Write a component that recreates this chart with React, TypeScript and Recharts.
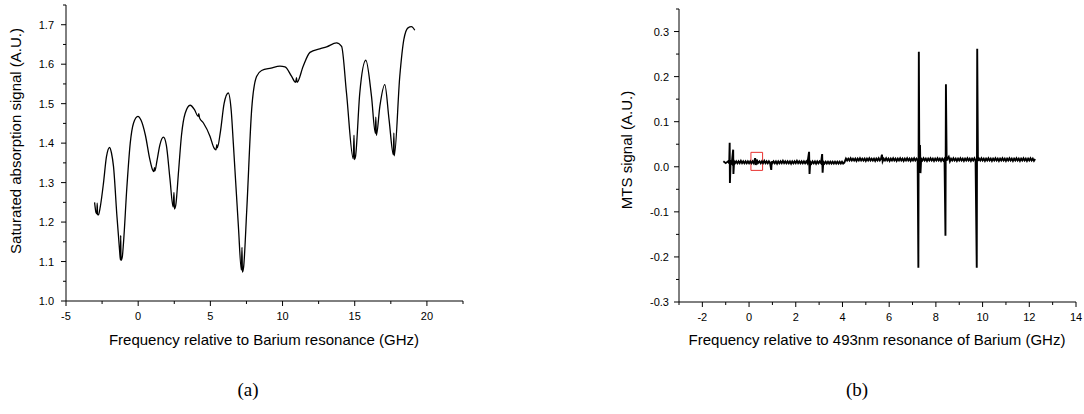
import React from 'react';
import { LineChart, Line, XAxis, YAxis, ReferenceArea } from 'recharts';

// (a) saturated absorption spectrum: [GHz, A.U.]
const absorption: [number, number][] = [
  [-3.02, 1.25], [-2.92, 1.224], [-2.86, 1.221], [-2.84, 1.248], [-2.81, 1.219], [-2.75, 1.218],
  [-2.62, 1.24], [-2.4, 1.3], [-2.2, 1.365], [-1.98, 1.389], [-1.85, 1.375], [-1.71, 1.341],
  [-1.47, 1.214], [-1.29, 1.129], [-1.23, 1.104], [-1.21, 1.166], [-1.19, 1.103], [-1.1, 1.112],
  [-1.02, 1.146], [-0.78, 1.29], [-0.55, 1.4], [-0.32, 1.451], [-0.02, 1.468], [0.2, 1.458],
  [0.5, 1.42], [0.8, 1.36], [1.0, 1.332], [1.08, 1.328], [1.13, 1.338], [1.16, 1.33], [1.3, 1.355],
  [1.5, 1.395], [1.75, 1.415], [1.95, 1.395], [2.2, 1.31], [2.42, 1.238], [2.48, 1.275],
  [2.51, 1.233], [2.6, 1.242], [2.8, 1.33], [3.0, 1.42], [3.25, 1.475], [3.6, 1.496],
  [3.9, 1.485], [4.15, 1.468], [4.2, 1.475], [4.25, 1.464], [4.52, 1.451], [4.98, 1.417],
  [5.25, 1.388], [5.39, 1.383], [5.45, 1.396], [5.48, 1.388], [5.7, 1.43], [5.95, 1.5],
  [6.24, 1.527], [6.45, 1.48], [6.59, 1.4], [6.94, 1.19], [7.15, 1.078], [7.19, 1.136],
  [7.22, 1.073], [7.3, 1.085], [7.52, 1.23], [7.86, 1.485], [8.2, 1.569], [8.55, 1.584],
  [9.2, 1.59], [9.82, 1.595], [10.17, 1.593], [10.63, 1.569], [10.9, 1.554], [10.97, 1.566],
  [11.0, 1.554], [11.43, 1.595], [11.9, 1.63], [12.58, 1.639], [13.05, 1.644], [13.74, 1.654],
  [14.09, 1.645], [14.43, 1.527], [14.9, 1.36], [14.95, 1.42], [14.98, 1.358], [15.05, 1.365],
  [15.35, 1.527], [15.77, 1.61], [16.16, 1.519], [16.43, 1.425], [16.46, 1.466], [16.5, 1.42],
  [16.74, 1.493], [17.08, 1.548], [17.38, 1.459], [17.68, 1.37], [17.71, 1.426], [17.74, 1.368],
  [18.12, 1.569], [18.4, 1.662], [18.69, 1.692], [18.93, 1.695], [19.16, 1.686],
];

// (b) modulation transfer spectroscopy signal: [GHz, A.U.]
const mts: [number, number][] = [
  [-1.1, 0.012], [-1.0, 0.008], [-0.9, 0.012], [-0.85, 0.008], [-0.83, 0.053], [-0.82, -0.036],
  [-0.79, 0.012], [-0.74, 0.008], [-0.68, 0.038], [-0.67, -0.016], [-0.64, 0.012], [-0.6, 0.008],
  [-0.55, 0.012], [-0.5, 0.008], [-0.45, 0.012], [-0.4, 0.008], [-0.35, 0.013], [-0.3, 0.008],
  [-0.25, 0.012], [-0.2, 0.008], [-0.15, 0.012], [-0.1, 0.008], [-0.05, 0.012], [0.0, 0.008],
  [0.05, 0.012], [0.1, 0.008], [0.15, 0.012], [0.2, 0.008], [0.26, 0.019], [0.29, 0.004],
  [0.33, 0.016], [0.38, 0.008], [0.45, 0.012], [0.5, 0.008], [0.55, 0.012], [0.6, 0.008],
  [0.65, 0.013], [0.7, 0.008], [0.75, 0.012], [0.8, 0.008], [0.85, 0.012], [0.9, 0.008],
  [0.95, -0.007], [0.97, 0.012], [1.0, 0.008], [1.05, 0.012], [1.1, 0.008], [1.15, 0.012],
  [1.2, 0.007], [1.25, 0.012], [1.3, 0.008], [1.35, 0.012], [1.4, 0.008], [1.45, 0.013],
  [1.5, 0.008], [1.55, 0.012], [1.6, 0.008], [1.65, 0.012], [1.7, 0.008], [1.75, 0.012],
  [1.8, 0.007], [1.85, 0.012], [1.9, 0.008], [1.95, 0.012], [2.0, 0.008], [2.05, 0.013],
  [2.1, 0.008], [2.15, 0.012], [2.2, 0.008], [2.25, 0.012], [2.3, 0.008], [2.35, 0.012],
  [2.4, 0.008], [2.45, 0.012], [2.5, 0.008], [2.57, 0.033], [2.59, -0.016], [2.62, 0.011],
  [2.67, 0.007], [2.72, 0.012], [2.77, 0.008], [2.82, 0.012], [2.87, 0.007], [2.92, 0.012],
  [2.97, 0.008], [3.02, 0.012], [3.08, 0.008], [3.13, 0.028], [3.15, -0.013], [3.18, 0.011],
  [3.23, 0.007], [3.28, 0.011], [3.33, 0.007], [3.38, 0.011], [3.43, 0.007], [3.48, 0.011],
  [3.53, 0.007], [3.58, 0.011], [3.63, 0.007], [3.68, 0.011], [3.73, 0.007], [3.78, 0.011],
  [3.83, 0.007], [3.88, 0.011], [3.93, 0.007], [3.98, 0.011], [4.03, 0.007], [4.08, 0.009],
  [4.15, 0.018], [4.2, 0.014], [4.25, 0.018], [4.3, 0.014], [4.35, 0.019], [4.4, 0.014],
  [4.45, 0.018], [4.5, 0.014], [4.55, 0.018], [4.6, 0.013], [4.65, 0.018], [4.7, 0.014],
  [4.75, 0.019], [4.8, 0.014], [4.85, 0.018], [4.9, 0.014], [4.95, 0.018], [5.0, 0.013],
  [5.05, 0.018], [5.1, 0.014], [5.15, 0.019], [5.2, 0.014], [5.25, 0.018], [5.3, 0.014],
  [5.35, 0.018], [5.4, 0.013], [5.45, 0.018], [5.5, 0.014], [5.55, 0.019], [5.6, 0.014],
  [5.65, 0.018], [5.69, 0.027], [5.72, 0.012], [5.77, 0.018], [5.82, 0.014], [5.87, 0.019],
  [5.92, 0.014], [5.97, 0.018], [6.02, 0.013], [6.07, 0.018], [6.12, 0.014], [6.17, 0.019],
  [6.22, 0.014], [6.27, 0.018], [6.32, 0.013], [6.37, 0.018], [6.42, 0.014], [6.47, 0.019],
  [6.52, 0.014], [6.57, 0.018], [6.62, 0.013], [6.67, 0.018], [6.72, 0.014], [6.77, 0.019],
  [6.82, 0.014], [6.87, 0.018], [6.92, 0.013], [6.97, 0.018], [7.02, 0.014], [7.07, 0.019],
  [7.12, 0.014], [7.17, 0.018], [7.22, 0.014], [7.25, -0.224], [7.27, 0.255], [7.29, 0.012],
  [7.32, 0.048], [7.34, -0.014], [7.37, 0.018], [7.42, 0.014], [7.47, 0.019], [7.52, 0.014],
  [7.57, 0.018], [7.62, 0.013], [7.67, 0.018], [7.72, 0.014], [7.77, 0.019], [7.82, 0.014],
  [7.87, 0.018], [7.92, 0.013], [7.97, 0.018], [8.02, 0.014], [8.07, 0.019], [8.12, 0.014],
  [8.17, 0.018], [8.22, 0.013], [8.27, 0.018], [8.32, 0.014], [8.37, 0.018], [8.41, -0.153],
  [8.43, 0.183], [8.46, 0.014], [8.5, 0.018], [8.55, 0.022], [8.6, 0.012], [8.65, 0.018],
  [8.7, 0.014], [8.75, 0.019], [8.8, 0.014], [8.85, 0.018], [8.9, 0.013], [8.95, 0.018],
  [9.0, 0.014], [9.05, 0.019], [9.1, 0.014], [9.15, 0.018], [9.2, 0.013], [9.25, 0.018],
  [9.3, 0.014], [9.35, 0.019], [9.4, 0.014], [9.45, 0.018], [9.5, 0.013], [9.55, 0.018],
  [9.6, 0.014], [9.65, 0.019], [9.7, 0.014], [9.75, -0.224], [9.77, 0.262], [9.8, 0.013],
  [9.85, 0.018], [9.9, 0.014], [9.95, 0.019], [10.0, 0.014], [10.05, 0.018], [10.1, 0.013],
  [10.15, 0.018], [10.2, 0.014], [10.25, 0.019], [10.3, 0.014], [10.35, 0.018], [10.4, 0.013],
  [10.45, 0.018], [10.5, 0.014], [10.55, 0.019], [10.6, 0.014], [10.65, 0.018], [10.7, 0.013],
  [10.75, 0.018], [10.8, 0.014], [10.85, 0.019], [10.9, 0.014], [10.95, 0.018], [11.0, 0.013],
  [11.05, 0.018], [11.1, 0.014], [11.15, 0.019], [11.2, 0.014], [11.25, 0.018], [11.3, 0.013],
  [11.35, 0.018], [11.4, 0.014], [11.45, 0.019], [11.5, 0.014], [11.55, 0.018], [11.6, 0.013],
  [11.65, 0.018], [11.7, 0.014], [11.75, 0.019], [11.8, 0.014], [11.85, 0.018], [11.9, 0.013],
  [11.95, 0.018], [12.0, 0.014], [12.05, 0.019], [12.1, 0.014], [12.15, 0.018], [12.2, 0.013],
  [12.25, 0.017],
];

const absFreqTicks = [-5, -2.5, 0, 2.5, 5, 7.5, 10, 12.5, 15, 17.5, 20, 22.5];
const absSignalTicks = [1.0, 1.05, 1.1, 1.15, 1.2, 1.25, 1.3, 1.35, 1.4, 1.45, 1.5, 1.55, 1.6, 1.65, 1.7, 1.75];
const mtsFreqTicks = [-3, -2, -1, 0, 1, 2, 3, 4, 5, 6, 7, 8, 9, 10, 11, 12, 13, 14];
const mtsSignalTicks = [-0.3, -0.25, -0.2, -0.15, -0.1, -0.05, 0, 0.05, 0.1, 0.15, 0.2, 0.25, 0.3, 0.35];

const absData = absorption.map(([x, y]) => ({ x, y }));
const mtsData = mts.map(([x, y]) => ({ x, y }));

const FONT = '"Liberation Sans", Arial, sans-serif';

// ticks with tickSize 0 so x/y is the axis point itself
const bottomTick = (isMajor: (v: number) => boolean, gap: number) => (p: any) => {
  const v = p.payload.value;
  const major = isMajor(v);
  return (
    <g>
      <line x1={p.x} x2={p.x} y1={p.y} y2={p.y + (major ? 5 : 3)} stroke="#000" />
      {major && (
        <text x={p.x} y={p.y + gap} textAnchor="middle" fontSize={11} fontFamily={FONT} fill="#000">
          {v}
        </text>
      )}
    </g>
  );
};

const leftTick = (isMajor: (v: number) => boolean, gap: number, fmt: (v: number) => string) => (p: any) => {
  const v = p.payload.value;
  const major = isMajor(v);
  return (
    <g>
      <line x1={p.x - (major ? 5 : 3)} x2={p.x} y1={p.y} y2={p.y} stroke="#000" />
      {major && (
        <text x={p.x - gap} y={p.y + 4} textAnchor="end" fontSize={11} fontFamily={FONT} fill="#000">
          {fmt(v)}
        </text>
      )}
    </g>
  );
};

const tenth = (v: number) => Math.round(v * 100) % 10 === 0;

export default function App() {
  return (
    <div style={{ position: 'absolute', left: 0, top: 0, width: 1084, height: 414, background: '#fff' }}>
      <div style={{ position: 'absolute', left: 0, top: 0 }}>
        <LineChart width={480} height={340} data={absData} margin={{ top: 5, right: 17, bottom: 9, left: 6 }}>
          <XAxis
            dataKey="x"
            type="number"
            domain={[-5, 22.5]}
            ticks={absFreqTicks}
            interval={0}
            tickSize={0}
            tickMargin={0}
            height={30}
            stroke="#000"
            tick={bottomTick((v) => v % 5 === 0, 19)}
          />
          <YAxis
            type="number"
            domain={[1.0, 1.75]}
            ticks={absSignalTicks}
            interval={0}
            tickSize={0}
            tickMargin={0}
            width={60}
            stroke="#000"
            tick={leftTick(tenth, 12, (v) => v.toFixed(1))}
          />
          <Line type="monotone" dataKey="y" stroke="#000" strokeWidth={1.3} dot={false} isAnimationActive={false} />
        </LineChart>
      </div>
      <div style={{ position: 'absolute', left: 560, top: 0 }}>
        <LineChart width={524} height={340} data={mtsData} margin={{ top: 9, right: 8, bottom: 8, left: 59 }}>
          <XAxis
            dataKey="x"
            type="number"
            domain={[-3, 14]}
            ticks={mtsFreqTicks}
            interval={0}
            tickSize={0}
            tickMargin={0}
            height={30}
            stroke="#000"
            tick={bottomTick((v) => v % 2 === 0, 19)}
          />
          <YAxis
            type="number"
            domain={[-0.3, 0.35]}
            ticks={mtsSignalTicks}
            interval={0}
            tickSize={0}
            tickMargin={0}
            width={60}
            stroke="#000"
            tick={leftTick(tenth, 10, (v) => v.toFixed(1))}
          />
          <ReferenceArea x1={0.08} x2={0.58} y1={-0.008} y2={0.032} stroke="#e8312f" strokeWidth={1} fill="none" fillOpacity={0} ifOverflow="visible" />
          <Line type="linear" dataKey="y" stroke="#000" strokeWidth={1.9} dot={false} isAnimationActive={false} />
        </LineChart>
      </div>
      <svg width={1084} height={414} style={{ position: 'absolute', left: 0, top: 0, pointerEvents: 'none' }}>
        <g fontFamily={FONT} fontSize={15} fill="#000">
          <text x={264} y={345} textAnchor="middle">Frequency relative to Barium resonance (GHz)</text>
          <text transform="translate(21,141) rotate(-90)" textAnchor="middle">Saturated absorption signal (A.U.)</text>
          <text x={877} y={345} textAnchor="middle">Frequency relative to 493nm resonance of Barium (GHz)</text>
          <text transform="translate(632,150) rotate(-90)" textAnchor="middle">MTS signal (A.U.)</text>
        </g>
        <g fontFamily='"Liberation Serif", "Times New Roman", serif' fontSize={19} fill="#000">
          <text x={248} y={396} textAnchor="middle">(a)</text>
          <text x={857} y={396} textAnchor="middle">(b)</text>
        </g>
      </svg>
    </div>
  );
}
